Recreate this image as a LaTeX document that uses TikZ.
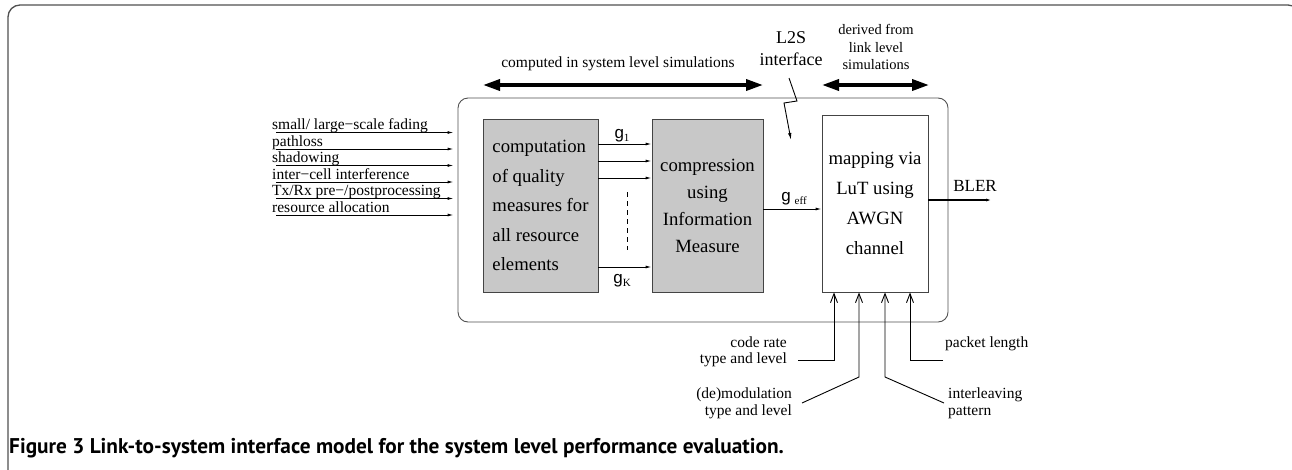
\documentclass[tikz,border=0pt]{standalone}
\usepackage{fontspec}
\setmainfont{Liberation Serif}
\newfontfamily\capfont{PT Sans}
\newfontfamily\gfont{Liberation Sans}
\usetikzlibrary{arrows.meta}
\definecolor{framecol}{HTML}{505050}
\definecolor{boxline}{HTML}{444444}
\definecolor{greyfill}{HTML}{C8C8C8}
\newcommand{\gsym}[2][0pt]{{\gfont\fontsize{17}{17}\selectfont g}\hspace*{#1}\raisebox{-2.5pt}{\fontsize{11}{11}\selectfont #2}}
\tikzset{
  lbl/.style={font=\fontsize{15.5}{16.5}\selectfont, inner sep=0pt},
  boxtxt/.style={font=\fontsize{18.7}{29.5}\selectfont, inner sep=0pt},
  gbox/.style={draw=boxline, fill=greyfill, line width=0.9pt, boxtxt},
  wbox/.style={draw=boxline, fill=white, line width=0.9pt, boxtxt},
  smallarrow/.style={-{Latex[length=6pt,width=3pt]}, line width=0.9pt},
  thickarrow/.style={{Triangle[length=17pt,width=11pt]}-{Triangle[length=17pt,width=11pt]}, line width=3.5pt},
  uparrow/.style={-{Straight Barb[length=9pt,width=7pt,line width=0.9pt]}, line width=0.9pt},
}
\begin{document}
\begin{tikzpicture}[x=1pt,y=-1pt]
\useasboundingbox (0,0) rectangle (1292,469);
% outer frame (only left side, top side and the start of the top-right corner are in view)
\begin{scope}
  \clip (0,0) rectangle (1292,469);
  \coordinate (fr0) at (8,475);
  \coordinate (fr1) at (1300,5);
  \coordinate (fr2) at (1300,40);
  \draw[framecol, line width=1.3pt, rounded corners=12pt] (fr0) |- (fr1) -- (fr2);
\end{scope}
% system box
\node[draw=framecol, line width=0.9pt, rounded corners=10pt, minimum width=490pt, minimum height=224pt, inner sep=0pt] (sys) at (703,210) {};
% blocks
\node[gbox, align=left, minimum width=115pt, minimum height=173pt] (b1) at (540.5,205.5)
  {computation\\of quality\\measures for\\all resource\\elements};
\node[gbox, align=center, minimum width=111pt, minimum height=173pt, font=\fontsize{18.7}{27}\selectfont] (b2) at (707.5,205.5)
  {compression\\using\\Information\\Measure};
\node[wbox, align=center, minimum width=106pt, minimum height=177pt, font=\fontsize{18.7}{30}\selectfont] (b3) at (875,203.5)
  {mapping via\\LuT using\\AWGN\\channel};
% inputs
\foreach \i/\t [count=\k] in {0/{small/ large−scale fading},1/pathloss,2/shadowing,3/{inter−cell interference},4/{Tx/Rx pre−/postprocessing},5/resource allocation}{
  \coordinate (s\k) at (276,{132.5+16.5*\i});
  \node[lbl, anchor=base west] (t\k) at (272,{129.5+16.5*\i}) {\t};
  \draw[smallarrow, shorten >=4pt] (s\k) -- (s\k -| sys.west);
}
% g arrows
\foreach \y/\n in {144/ga,161/gb,178/gc,267/gd}{
  \coordinate (\n) at (598,\y);
  \draw[smallarrow] (\n) -- (\n -| b2.west);
}
\node (g1) at (622,136) {\gsym{1}};
\node (gK) at (622,281) {\gsym{K}};
\draw[dashed, line width=0.6pt, dash pattern=on 5pt off 4pt] (627,192) -- (627,250);
% g_eff
\coordinate (ge) at (763,209);
\draw[smallarrow] (ge) -- (ge -| b3.west);
\node (geff) at (794,199) {\gsym[4pt]{eff}};
% BLER
\coordinate (bl) at (928,200);
\coordinate (blend) at (992,200);
\draw[-{Latex[length=6pt,width=3pt]}, line width=2pt] (bl) -- (blend);
\node[font=\fontsize{17}{17}\selectfont, inner sep=0pt] (bler) at (975,186) {BLER};
% top arrows
\coordinate (ta1) at (483,85);
\coordinate (ta2) at (763,85);
\draw[thickarrow] (ta1) -- (ta2);
\node[lbl] (comp) at (618,64) {computed in system level simulations};
\coordinate (tb1) at (822,85);
\coordinate (tb2) at (929,85);
\draw[thickarrow] (tb1) -- (tb2);
\node[font=\fontsize{14.5}{17.5}\selectfont, align=center, inner sep=0pt] (der) at (876,47) {derived from\\link level\\simulations};
\node[font=\fontsize{18}{22}\selectfont, align=center, inner sep=0pt] (l2s) at (791,49) {L2S\\interface};
% zigzag
\coordinate (z0) at (789,78);
\coordinate (z1) at (797,101);
\coordinate (z2) at (784,103);
\coordinate (z3) at (791,140);
\draw[-{Latex[length=7pt,width=3.5pt]}, line width=0.9pt] (z0) -- (z1) -- (z2) -- (z3);
% bottom arrows
\coordinate (u1) at (834,360);
\coordinate (u2) at (859,377);
\coordinate (u3) at (885,377);
\coordinate (u4) at (910,360);
\coordinate (f1) at (798,360);
\coordinate (f2) at (802,403);
\coordinate (f3) at (944,403);
\coordinate (f4) at (943,360);
\draw[uparrow] (f1) -- (u1) -- (u1 |- b3.south);
\draw[uparrow] (f2) -- (u2) -- (u2 |- b3.south);
\draw[uparrow] (f3) -- (u3) -- (u3 |- b3.south);
\draw[uparrow] (f4) -- (u4) -- (u4 |- b3.south);
\node[lbl, align=right, anchor=east] (lb1) at (787,352) {code rate\\type and level};
\node[lbl, align=right, anchor=east] (lb2) at (792,403.5) {(de)modulation\\type and level};
\node[lbl, align=left, anchor=west] (lb3) at (948,403.5) {interleaving\\pattern};
\node[lbl, anchor=west] (lb4) at (945,344) {packet length};
% caption
\node[anchor=base west, inner sep=0pt, font=\capfont\bfseries\fontsize{21.3}{22}\selectfont] (cap) at (9,453)
  {Figure 3 Link-to-system interface model for the system level performance evaluation.};
\end{tikzpicture}
\end{document}
